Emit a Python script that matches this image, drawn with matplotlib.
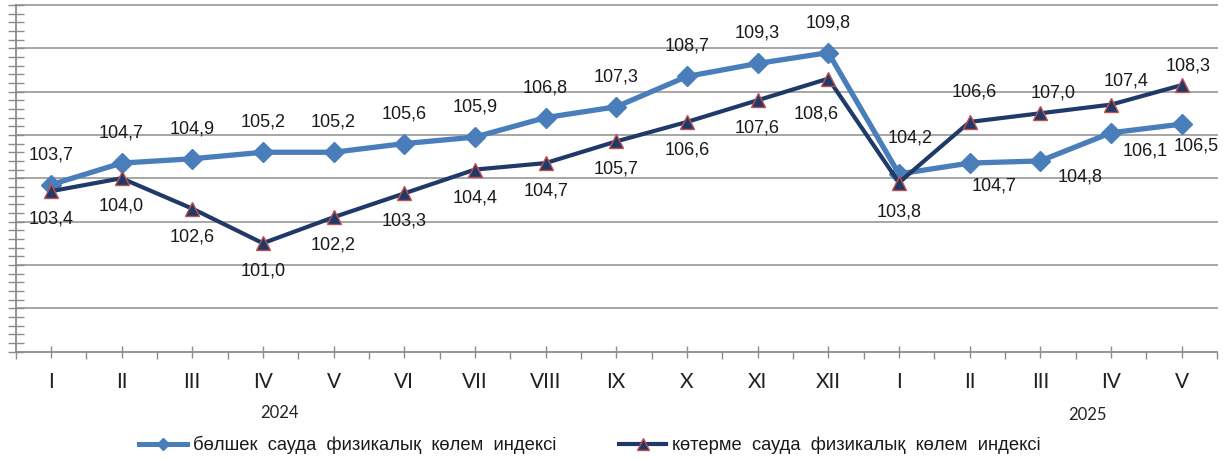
import numpy as np
import matplotlib
matplotlib.use("Agg")
import matplotlib.pyplot as plt
from matplotlib.lines import Line2D

# ---- data ----
months = ["I", "II", "III", "IV", "V", "VI", "VII", "VIII", "IX", "X", "XI", "XII",
          "I", "II", "III", "IV", "V"]
years = ["2024", "2025"]
retail = [103.7, 104.7, 104.9, 105.2, 105.2, 105.6, 105.9, 106.8, 107.3, 108.7, 109.3, 109.8,
          104.2, 104.7, 104.8, 106.1, 106.5]
wholesale = [103.4, 104.0, 102.6, 101.0, 102.2, 103.3, 104.4, 104.7, 105.7, 106.6, 107.6, 108.6,
             103.8, 106.6, 107.0, 107.4, 108.3]
retail_name = "бөлшек  сауда  физикалық  көлем  индексі"
wholesale_name = "көтерме  сауда  физикалық  көлем  индексі"

# ---- layout / style ----
W, H = 1232, 459
retail_off = [(0, 30)] * 12 + [(11, 36), (24, -23), (40, -16), (34, -18), (15, -22)]
wholesale_off = [(0, -28)] * 11 + [(-12, -35), (0, -29), (5, 30), (13, 20), (15, 24), (6, 19)]
year_x = [3.24, 14.66]
year_y_px = [413, 415]

c_retail = "#4A7EBB"
c_whole = "#1F3A68"
c_edge = "#C0504D"
c_grid = "#A6A6A6"
c_axis = "#8C8C8C"
c_text = "#1A1A1A"

fig = plt.figure(figsize=(W / 100, H / 100), dpi=100)
ax = fig.add_axes([15.5 / W, 107.5 / H, (1217 - 15.5) / W, (351.5 - 5) / H])
x = np.arange(len(months))
ax.set_xlim(-0.5, len(months) - 0.5)
ax.set_ylim(96, 112)

for v in np.arange(98, 112.1, 2):
    ax.axhline(v, color=c_grid, lw=1.4, zorder=0, clip_on=False)

for s in ["top", "right"]:
    ax.spines[s].set_visible(False)
for s in ["left", "bottom"]:
    ax.spines[s].set_color(c_axis)
    ax.spines[s].set_linewidth(1.3)

ax.set_yticks(np.arange(96, 112.01, 0.4))
ax.set_yticklabels([])
ax.tick_params(axis="y", direction="inout", length=11, width=1, color=c_axis)

ax.set_xticks(x)
ax.set_xticklabels(months, fontsize=15, family=["Lato", "DejaVu Sans"], color="#222222")
ax.set_xticks(np.arange(-0.5, len(months), 1.0), minor=True)
ax.tick_params(axis="x", which="major", direction="inout", length=8, width=1,
               color=c_axis, pad=11)
ax.tick_params(axis="x", which="minor", direction="out", length=5, width=1, color=c_axis)

ax.plot(x, retail, color=c_retail, lw=3.8, marker="D", markersize=10,
        markerfacecolor=c_retail, markeredgecolor=c_retail, zorder=3, clip_on=False)
ax.plot(x, wholesale, color=c_whole, lw=3.0, marker="^", markersize=9.5,
        markerfacecolor=c_whole, markeredgecolor=c_edge, markeredgewidth=1.0,
        zorder=4, clip_on=False)

lab_font = dict(fontsize=13, family=["Liberation Sans", "DejaVu Sans"], color=c_text,
                ha="center", va="center")
for xi, v, (dx, dy) in zip(x, retail, retail_off):
    ax.annotate(f"{v:.1f}".replace(".", ","), (xi, v), xytext=(dx, dy),
                textcoords="offset pixels", annotation_clip=False, **lab_font)
for xi, v, (dx, dy) in zip(x, wholesale, wholesale_off):
    ax.annotate(f"{v:.1f}".replace(".", ","), (xi, v), xytext=(dx, dy),
                textcoords="offset pixels", annotation_clip=False, **lab_font)

for yr, xp, yp in zip(years, year_x, year_y_px):
    ax.annotate(yr, (xp, 1 - yp / H), xycoords=("data", "figure fraction"),
                ha="center", va="center", fontsize=12,
                family=["Lato", "DejaVu Sans"], color="#222222", annotation_clip=False)

handles = [
    Line2D([], [], color=c_retail, lw=3.6, marker="D", markersize=6,
           markerfacecolor=c_retail, markeredgecolor=c_retail),
    Line2D([], [], color=c_whole, lw=3.0, marker="^", markersize=8,
           markerfacecolor=c_whole, markeredgecolor=c_edge, markeredgewidth=1.0),
]
fig.legend(handles, [retail_name, wholesale_name], loc="center",
           bbox_to_anchor=(590 / W, 1 - 445 / H), ncol=2, frameon=False,
           prop=dict(family=["Liberation Sans", "DejaVu Sans"], size=13.2),
           handlelength=2.6, handletextpad=0.3, columnspacing=3.42, labelcolor=c_text)

fig.savefig("out.png", dpi=100)
